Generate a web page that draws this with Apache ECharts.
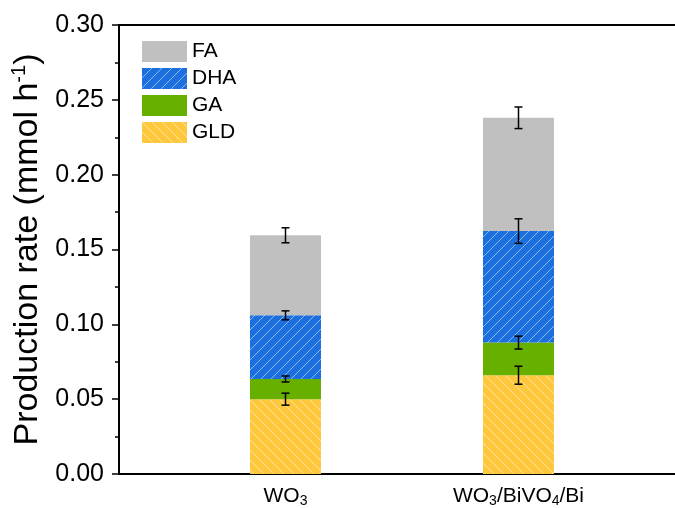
<!DOCTYPE html>
<html>
<head>
<meta charset="utf-8">
<script src="https://cdn.jsdelivr.net/npm/echarts@6/dist/echarts.min.js"></script>
<style>
html,body{margin:0;padding:0;background:#fff;}
#chart{width:675px;height:508px;}
</style>
</head>
<body>
<div id="chart"></div>
<script>
// ---- data ----
var categories = ['WO3', 'WO3/BiVO4/Bi'];
var seriesNames = ['GLD', 'GA', 'DHA', 'FA'];
var GLD = [0.050, 0.066];
var GA = [0.0135, 0.0218];
var DHA = [0.0425, 0.0745];
var FA = [0.0535, 0.0757];
var GLD_err = [0.004, 0.006];
var GA_err = [0.002, 0.0043];
var DHA_err = [0.003, 0.0082];
var FA_err = [0.005, 0.0072];
var yTicks = [0, 0.05, 0.10, 0.15, 0.20, 0.25, 0.30];

// ---- styling helpers ----
function hatch(base, dir) {
  var s = 10;
  var c = document.createElement('canvas');
  c.width = s; c.height = s;
  var g = c.getContext('2d');
  g.fillStyle = base;
  g.fillRect(0, 0, s, s);
  g.strokeStyle = 'rgba(255,255,255,0.5)';
  g.lineWidth = 1;
  g.beginPath();
  if (dir === '/') {
    g.moveTo(-1, s + 1); g.lineTo(s + 1, -1);
    g.moveTo(-1, 1); g.lineTo(1, -1);
    g.moveTo(s - 1, s + 1); g.lineTo(s + 1, s - 1);
  } else {
    g.moveTo(-1, -1); g.lineTo(s + 1, s + 1);
    g.moveTo(s - 1, -1); g.lineTo(s + 1, 1);
    g.moveTo(-1, s - 1); g.lineTo(1, s + 1);
  }
  g.stroke();
  return { image: c, repeat: 'repeat' };
}

var colors = {
  GLD: hatch('#ffc83c', '\\'),
  GA: '#68b000',
  DHA: hatch('#1b6fde', '/'),
  FA: '#c0c0c0'
};

var values = { GLD: GLD, GA: GA, DHA: DHA, FA: FA };
var errs = { GLD: GLD_err, GA: GA_err, DHA: DHA_err, FA: FA_err };

var FONT = "'Liberation Sans', Arial, sans-serif";
var BAR_W = 71;
var series = [];
var cum = categories.map(function () { return 0; });
var errData = [];

function barRender(params, api) {
  var x = api.value(0), lo = api.value(1), hi = api.value(2);
  var pTop = api.coord([x, hi]);
  var pBot = api.coord([x, lo]);
  return {
    type: 'rect',
    shape: { x: pTop[0] - BAR_W / 2, y: pTop[1], width: BAR_W, height: pBot[1] - pTop[1] },
    style: { fill: api.visual('color') }
  };
}

seriesNames.forEach(function (name) {
  var v = values[name];
  var data = categories.map(function (c, i) {
    var lo = cum[i];
    cum[i] += v[i];
    errData.push([i + 1, cum[i], errs[name][i]]);
    return [i + 1, lo, cum[i]];
  });
  series.push({
    name: name,
    type: 'custom',
    renderItem: barRender,
    itemStyle: { color: colors[name] },
    encode: { x: 0, y: [1, 2] },
    silent: true,
    data: data
  });
});

series.push({
  type: 'custom',
  name: 'err',
  z: 10,
  silent: true,
  encode: { x: 0, y: 1 },
  renderItem: function (params, api) {
    var x = api.value(0), y = api.value(1), e = api.value(2);
    var top = api.coord([x, y + e]);
    var bot = api.coord([x, y - e]);
    var hw = 4;
    var st = { stroke: '#000', lineWidth: 1.5 };
    return {
      type: 'group',
      children: [
        { type: 'line', shape: { x1: top[0], y1: top[1], x2: bot[0], y2: bot[1] }, style: st },
        { type: 'line', shape: { x1: top[0] - hw, y1: top[1], x2: top[0] + hw, y2: top[1] }, style: st },
        { type: 'line', shape: { x1: bot[0] - hw, y1: bot[1], x2: bot[0] + hw, y2: bot[1] }, style: st }
      ]
    };
  },
  data: errData
});

function subify(s) {
  return s.replace(/([A-Za-z\/]+)|(\d+)/g, function (m, a, d) {
    return a ? '{n|' + a + '}' : '{s|' + d + '}';
  });
}

var X_MIN = 0.2854, X_MAX = 2.6717;

var chart = echarts.init(document.getElementById('chart'), null, { renderer: 'canvas' });
chart.setOption({
  animation: false,
  backgroundColor: '#fff',
  grid: { left: 119, top: 25, bottom: 31, right: 0, containLabel: false },
  legend: {
    orient: 'vertical',
    left: 142,
    top: 41,
    padding: 0,
    icon: 'rect',
    itemWidth: 45,
    itemHeight: 21,
    itemGap: 6,
    data: ['FA', 'DHA', 'GA', 'GLD'],
    textStyle: { fontFamily: FONT, fontSize: 21, color: '#000' },
    selectedMode: false
  },
  xAxis: [{
    type: 'value',
    min: X_MIN,
    max: X_MAX,
    splitLine: { show: false },
    axisLine: { show: true, onZero: false, lineStyle: { color: '#000', width: 2 } },
    axisTick: { show: false },
    axisLabel: {
      customValues: categories.map(function (c, i) { return i + 1; }),
      margin: 10,
      formatter: function (val) {
        var c = categories[Math.round(val) - 1];
        return c ? subify(c) : '';
      },
      rich: {
        n: { fontFamily: FONT, fontSize: 21, color: '#000' },
        s: { fontFamily: FONT, fontSize: 14, color: '#000', padding: [10, 0, 0, 0] }
      }
    }
  }, {
    type: 'value',
    position: 'top',
    min: X_MIN,
    max: X_MAX,
    splitLine: { show: false },
    axisLine: { show: true, onZero: false, lineStyle: { color: '#000', width: 2 } },
    axisTick: { show: false },
    axisLabel: { show: false }
  }],
  yAxis: {
    type: 'value',
    min: 0,
    max: 0.30,
    interval: 0.05,
    splitLine: { show: false },
    axisLine: { show: true, lineStyle: { color: '#000', width: 2 } },
    axisTick: { show: true, inside: false, length: 7, lineStyle: { color: '#000', width: 1.5 } },
    minorTick: { show: true, splitNumber: 2, length: 4, lineStyle: { color: '#000', width: 1.5 } },
    axisLabel: {
      fontFamily: FONT, fontSize: 25, color: '#000', margin: 15,
      formatter: function (v) { return v.toFixed(2); }
    },
    name: '{a|Production rate (mmol h}{sup|-1}{a|)}',
    nameLocation: 'middle',
    nameGap: 67,
    nameRotate: 90,
    nameTextStyle: {
      rich: {
        a: { fontFamily: FONT, fontSize: 34, color: '#000' },
        sup: { fontFamily: FONT, fontSize: 20, color: '#000', padding: [0, 0, 16, 0] }
      }
    }
  },
  series: series
});
</script>
</body>
</html>
